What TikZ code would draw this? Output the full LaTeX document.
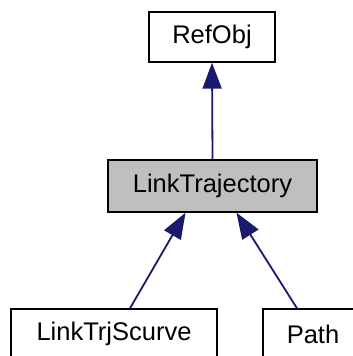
\documentclass[tikz,border=0pt]{standalone}
\usepackage{fontspec}
\setmainfont{Liberation Sans}
\usetikzlibrary{arrows.meta,positioning}
\definecolor{edgeblue}{RGB}{25,25,112}
\definecolor{curgray}{RGB}{191,191,191}
\tikzset{
  classbox/.style={draw=black, line width=1.4pt, fill=white, inner sep=0pt,
    font=\fontsize{25.5}{30}\selectfont},
  curbox/.style={classbox, fill=curgray},
  inherit/.style={draw=edgeblue, line width=1.8pt,
    -{Triangle[length=26pt 0 0,width=19pt 0 0]}}
}
\begin{document}
\begin{tikzpicture}[x=1pt,y=-1pt]
  \useasboundingbox (0,0) rectangle (353,356);
  \clip (0,0) rectangle (353,356);
  % classes
  \node[classbox, minimum width=126pt, minimum height=50pt] (refobj) at (212,37) {RefObj};
  \node[curbox, minimum width=209pt, minimum height=52pt] (linktrj) at (212.5,186) {LinkTrajectory};
  \node[classbox, minimum width=206pt, minimum height=50pt] (scurve) at (114,334) {LinkTrjScurve};
  \node[classbox, minimum width=100pt, minimum height=50pt] (path) at (313,334) {Path};
  % inheritance
  \draw[inherit] (linktrj.north) -- (refobj.south);
  \draw[inherit] ([xshift=16pt]scurve.north) -- ([xshift=-27pt]linktrj.south);
  \draw[inherit] ([xshift=-16pt]path.north) -- ([xshift=24pt]linktrj.south);
\end{tikzpicture}
\end{document}
